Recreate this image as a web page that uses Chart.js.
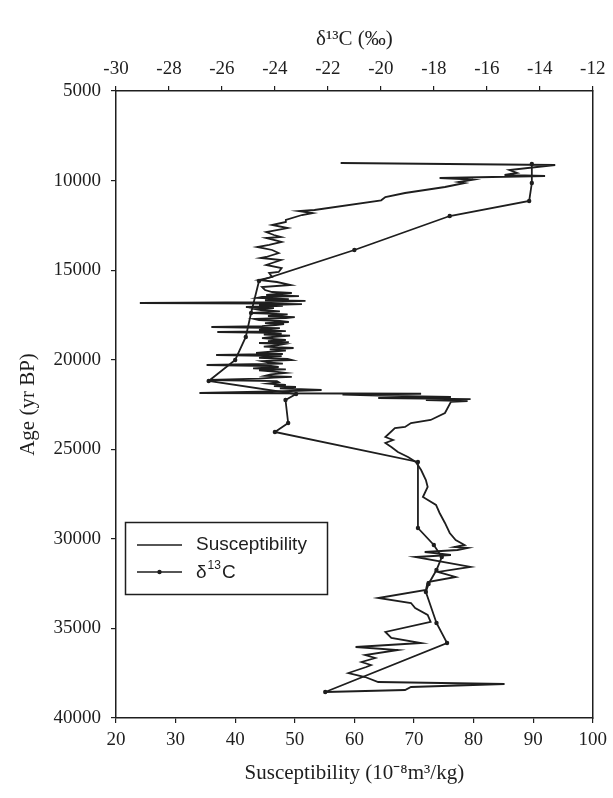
<!DOCTYPE html>
<html>
<head>
<meta charset="utf-8">
<script src="https://cdn.jsdelivr.net/npm/chart.js@4/dist/chart.umd.min.js"></script>
<style>
  html, body { margin: 0; padding: 0; background: #fff; }
  #wrap { width: 613px; height: 798px; }
</style>
</head>
<body>
<div id="wrap"><canvas id="c" width="613" height="798"></canvas></div>
<script>
// Magnetic susceptibility profile (10^-8 m3/kg) against age (yr BP)
const suscAge = [
  9019, 9131, 9410, 9577, 9689, 9745, 9856, 9950, 10080, 10135,
  10359, 10694, 10917, 11100, 11643, 11700, 11810, 11922, 12201, 12312,
  12480, 12650, 12871, 13038, 13150, 13205, 13429, 13596, 13708, 13875,
  14043, 14266, 14322, 14434, 14713, 14880, 15103, 15159, 15383, 15550,
  15662, 15829, 15941, 16108, 16220, 16276, 16388,
  16450, 16500, 16555, 16620, 16680, 16720, 16780, 16834, 16870, 16900,
  16960, 17000, 17058, 17120, 17180, 17225, 17300, 17392, 17470, 17560,
  17620, 17671, 17720, 17783, 17840, 17894, 17960, 18010, 18062, 18120,
  18174, 18240, 18300, 18341, 18400, 18453, 18500, 18540, 18600, 18660,
  18732, 18800, 18900, 18960, 19020, 19067, 19130, 19200, 19270, 19346,
  19420, 19490, 19550, 19620, 19680, 19736, 19800, 19850, 19900, 19960,
  20016, 20080, 20150, 20220, 20295, 20350, 20407, 20480, 20540, 20600,
  20680, 20741, 20820, 20900, 20960, 21000, 21060, 21132, 21190, 21250,
  21330, 21411, 21470, 21523, 21600, 21690, 21760, 21858, 21900, 21950,
  22000, 22081, 22137, 22200, 22249, 22305, 22350,
  22974, 23365, 23533, 23756, 23812,
  24314, 24481, 24649, 24872, 25151, 25430, 25709, 26156, 26714, 27105,
  27663, 28109, 28556, 29114, 29672, 30063, 30342, 30454, 30509, 30621,
  30733, 30900, 31012, 31570, 31849, 32128, 32408, 32854, 33301, 33580,
  33859, 34250, 34640, 35199, 35534, 35813, 36036, 36204, 36483, 36651,
  36874, 37042, 37154, 37489, 37712, 37991, 38103, 38270, 38437, 38549
];
const suscValue = [
  57.7, 93.7, 86.0, 87.3, 85.2, 92.0, 74.3, 79.9, 77.5, 78.5,
  75.2, 68.5, 65.2, 64.5, 53.3, 50.7, 53.0, 51.2, 48.5, 48.5,
  46.2, 48.8, 45.2, 46.5, 47.7, 45.2, 47.8, 45.7, 43.7, 46.2,
  47.3, 45.2, 44.3, 47.7, 45.2, 47.8, 47.3, 45.7, 46.2, 44.0,
  47.0, 49.3, 44.5, 45.0, 46.2, 49.5, 45.2,
  50.7, 44.5, 43.7, 49.0, 45.0, 51.8, 46.0, 24.0, 45.5, 51.2,
  44.0, 48.0, 41.8, 46.5, 43.5, 44.3, 47.5, 42.8, 48.8, 45.5,
  50.0, 48.5, 43.2, 44.0, 47.5, 49.0, 45.0, 48.2, 46.8, 44.5,
  36.0, 47.5, 45.0, 44.0, 48.5, 37.0, 46.0, 47.8, 44.8, 49.2,
  46.2, 44.5, 48.5, 45.5, 49.0, 44.0, 48.2, 47.0, 44.8, 49.8,
  45.8, 48.5, 46.0, 43.5, 48.0, 36.8, 47.8, 45.5, 44.0, 48.8,
  49.5, 44.5, 45.5, 48.0, 35.2, 46.0, 47.3, 43.0, 48.5, 44.0,
  47.0, 48.5, 46.0, 45.0, 49.5, 46.5, 44.0, 35.7, 47.0, 47.3,
  45.5, 48.5, 46.5, 50.2, 47.5, 54.5, 48.0, 34.0, 71.2, 58.0,
  64.0, 76.2, 64.0, 79.5, 72.0, 79.0, 76.2,
  75.2, 72.8, 69.5, 68.5, 66.8,
  65.2, 66.5, 65.2, 66.2, 67.3, 69.0, 70.3, 71.2, 72.0, 72.3,
  71.5, 73.7, 74.3, 75.2, 76.0, 77.0, 78.5, 76.8, 79.0, 77.3,
  71.8, 76.2, 70.2, 79.5, 74.0, 77.0, 72.3, 72.0, 64.0, 69.5,
  70.2, 72.3, 72.8, 65.2, 66.2, 71.2, 60.2, 67.3, 61.8, 63.5,
  61.2, 62.8, 62.0, 59.0, 61.8, 64.0, 85.2, 69.5, 68.5, 55.2
];

// Organic carbon isotope ratio, δ13C (‰), against age (yr BP)
const d13cAge = [
  9075, 10136, 11140, 11978, 13876, 15606, 17392, 18732, 20016, 21188,
  21914, 22249, 23533, 24035, 25709, 29394, 30342, 31012, 31738, 32519,
  32966, 34696, 35813, 38549
];
const d13cValue = [
  -14.3, -14.3, -14.4, -17.4, -21.0, -24.6, -24.9, -25.1, -25.5, -26.5,
  -23.2, -23.6, -23.5, -24.0, -18.6, -18.6, -18.0, -17.7, -17.9, -18.2,
  -18.3, -17.9, -17.5, -22.1
];

// Axis ranges and tick spacing
const suscRange = [20, 100], suscStep = 10;
const d13cRange = [-30, -12], d13cStep = 2;
const ageRange = [5000, 40000], ageStep = 5000;

const seriesLabels = ['Susceptibility', 'δ13C'];

const INK = '#1e1e1e';
const SERIF = "'Liberation Serif', 'Times New Roman', serif";
const SANS = "'Liberation Sans', Arial, sans-serif";
const tickFont = { family: SERIF, size: 19 };
const titleFont = { family: SERIF, size: 21 };

const toPoints = (xs, ys) => xs.map((a, i) => ({ x: ys[i], y: a }));

// Legend box drawn inside the plot, with line samples and a superscript label
const insetLegend = {
  id: 'insetLegend',
  afterDraw(chart) {
    const { ctx, chartArea } = chart;
    const bx = chartArea.left + 9, by = chartArea.top + 431;
    const bw = 202, bh = 72;
    ctx.save();
    ctx.strokeStyle = INK;
    ctx.lineWidth = 1.5;
    ctx.strokeRect(bx + 0.5, by + 0.5, bw, bh);
    const rows = [by + 23, by + 50];
    const x0 = bx + 12, x1 = bx + 57, tx = bx + 71;
    ctx.lineWidth = 1.6;
    rows.forEach((ry, i) => {
      ctx.beginPath();
      ctx.moveTo(x0, ry);
      ctx.lineTo(x1, ry);
      ctx.stroke();
      if (i === 1) {
        ctx.fillStyle = INK;
        ctx.beginPath();
        ctx.arc((x0 + x1) / 2, ry, 2.2, 0, Math.PI * 2);
        ctx.fill();
      }
    });
    ctx.fillStyle = INK;
    ctx.textBaseline = 'middle';
    ctx.textAlign = 'left';
    ctx.font = '19px ' + SANS;
    ctx.fillText(seriesLabels[0], tx, rows[0]);
    // δ with a raised "13" before C
    let cx = tx;
    ctx.fillText('δ', cx, rows[1] + 1);
    cx += ctx.measureText('δ').width + 1;
    ctx.font = '12px ' + SANS;
    ctx.fillText('13', cx, rows[1] - 6);
    cx += ctx.measureText('13').width + 1;
    ctx.font = '19px ' + SANS;
    ctx.fillText('C', cx, rows[1] + 1);
    ctx.restore();
  }
};

new Chart(document.getElementById('c'), {
  type: 'scatter',
  data: {
    datasets: [
      {
        label: seriesLabels[0],
        data: toPoints(suscAge, suscValue),
        xAxisID: 'x',
        yAxisID: 'y',
        showLine: true,
        borderColor: INK,
        borderWidth: 1.8,
        pointRadius: 0,
        pointHoverRadius: 0
      },
      {
        label: seriesLabels[1],
        data: toPoints(d13cAge, d13cValue),
        xAxisID: 'x2',
        yAxisID: 'y',
        showLine: true,
        borderColor: INK,
        borderWidth: 1.8,
        pointRadius: 2.2,
        pointBackgroundColor: INK,
        pointBorderWidth: 0
      }
    ]
  },
  options: {
    responsive: false,
    devicePixelRatio: 1,
    animation: false,
    layout: { padding: { left: 0, right: 17, top: 0, bottom: 0 } },
    plugins: { legend: { display: false }, tooltip: { enabled: false } },
    scales: {
      x: {
        type: 'linear', position: 'bottom',
        min: suscRange[0], max: suscRange[1],
        ticks: { stepSize: suscStep, font: tickFont, color: INK, padding: 6 },
        grid: { drawOnChartArea: false, drawTicks: true, tickLength: 5, color: INK, lineWidth: 1.2 },
        border: { color: INK, width: 1.5 },
        title: { display: true, text: 'Susceptibility (10⁻⁸m³/kg)', font: titleFont, color: INK, padding: { top: 0, bottom: 12 } },
        afterFit(s) { s.height = 80; }
      },
      x2: {
        type: 'linear', position: 'top',
        min: d13cRange[0], max: d13cRange[1],
        ticks: { stepSize: d13cStep, font: tickFont, color: INK, padding: 6 },
        grid: { drawOnChartArea: false, drawTicks: true, tickLength: 5, color: INK, lineWidth: 1.2 },
        border: { color: INK, width: 1.5 },
        title: { display: true, text: 'δ¹³C (‰)', font: titleFont, color: INK, padding: { top: 27, bottom: 0 } },
        afterFit(s) { s.height = 91; }
      },
      y: {
        type: 'linear', position: 'left', reverse: true,
        min: ageRange[0], max: ageRange[1],
        ticks: { stepSize: ageStep, font: tickFont, color: INK, padding: 10, callback: v => String(v) },
        grid: { drawOnChartArea: false, drawTicks: true, tickLength: 5, color: INK, lineWidth: 1.2 },
        border: { color: INK, width: 1.5 },
        title: { display: true, text: 'Age (yr BP)', font: titleFont, color: INK, padding: { top: 16, bottom: 0 } },
        afterFit(s) { s.width = 116; }
      },
      y2: {
        type: 'linear', position: 'right',
        min: ageRange[0], max: ageRange[1],
        ticks: { display: false },
        grid: { display: false, drawTicks: false },
        border: { display: true, color: INK, width: 1.5 },
        afterFit(s) { s.width = 0; }
      }
    }
  },
  plugins: [insetLegend]
});
</script>
</body>
</html>
